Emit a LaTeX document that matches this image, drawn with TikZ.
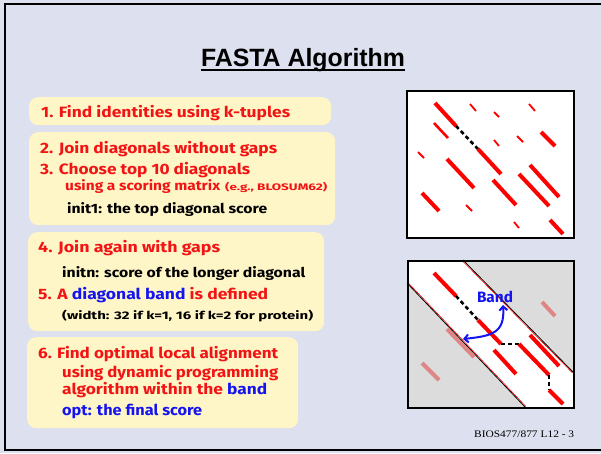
\documentclass[tikz,border=0pt]{standalone}
\usepackage{fontspec}
\setmainfont{Fira Sans}
\newfontfamily\titlefont{Liberation Sans}
\newfontfamily\footfont{Liberation Serif}
\usepackage{graphicx}
\usetikzlibrary{arrows.meta}
\definecolor{bg}{HTML}{DDE0EE}
\definecolor{boxy}{HTML}{FFF6C8}
\definecolor{tred}{HTML}{F21414}
\definecolor{tblue}{HTML}{1414F0}
\definecolor{pinkseg}{HTML}{E08585}
\definecolor{greyfill}{HTML}{DCDCDC}
\newcommand\fitw[2]{\resizebox{#1pt}{\height}{#2}}
\tikzset{
  ybox/.style={fill=boxy, rounded corners=9pt, anchor=north west, inner sep=0pt},
  big/.style={anchor=base west, inner sep=0pt, font=\bfseries\fontsize{15}{18}\selectfont, text=tred},
  mid/.style={anchor=base west, inner sep=0pt, font=\bfseries\fontsize{13.5}{16}\selectfont},
  sml/.style={anchor=base west, inner sep=0pt, font=\bfseries\fontsize{11}{13}\selectfont},
  frame/.style={draw=black, line width=1.6pt, anchor=north west, inner sep=0pt},
  segK/.style={draw=red, line width=4pt},
  segM/.style={draw=red, line width=2.6pt},
  segT/.style={draw=red, line width=1.8pt},
  segP/.style={draw=pinkseg, line width=4pt},
  gapd/.style={draw=black, line width=2.6pt, dash pattern=on 4pt off 3pt},
}
\begin{document}
\begin{tikzpicture}[x=1pt,y=-1pt]
\fill[bg] (0,0) rectangle (601,453);
\useasboundingbox (0,0) rectangle (601,453);
\draw[line width=2.5pt] (601,4) -- (5,4) -- (5,450) -- (601,450);

% title
\node[anchor=base, inner sep=0pt, font=\titlefont\bfseries\fontsize{25}{30}\selectfont] (title) at (303,66) {\fitw{204}{FASTA Algorithm}};
\draw[line width=2pt] ([yshift=-4pt]title.base west) -- ([yshift=-4pt]title.base east);

% yellow boxes
\node[ybox, minimum width=302pt, minimum height=28pt] (b1) at (29,97) {};
\node[ybox, minimum width=306pt, minimum height=93pt] (b2) at (29,132) {};
\node[ybox, minimum width=296pt, minimum height=99pt] (b3) at (28,232) {};
\node[ybox, minimum width=271pt, minimum height=91pt] (b4) at (27,337) {};

% box 1
\node[big] (t1) at (41,117) {\fitw{249}{1. Find identities using k-tuples}};
% box 2
\node[big] (t2) at (40,153) {\fitw{237}{2. Join diagonals without gaps}};
\node[big] (t3) at (40,174) {\fitw{210}{3. Choose top 10 diagonals}};
\node[mid, text=tred] (t4) at (65,190) {\fitw{155}{using a scoring matrix}};
\node[sml, text=tred, font=\bfseries\fontsize{9.5}{11}\selectfont] (t4b) at (225,190) {\fitw{102}{(e.g., BLOSUM62)}};
\node[mid, text=black] (t5) at (67,213) {\fitw{200}{init1: the top diagonal score}};
% box 3
\node[big] (t6) at (38,252) {\fitw{182}{4. Join again with gaps}};
\node[mid, text=black] (t7) at (62,277) {\fitw{243}{initn: score of the longer diagonal}};
\node[big] (t8) at (38,299) {\fitw{230}{5. A \textcolor{tblue}{diagonal band} is defined}};
\node[sml, text=black] (t9) at (62,319) {\fitw{251}{(width: 32 if k=1, 16 if k=2 for protein)}};
% box 4
\node[big] (t10) at (38,358) {\fitw{240}{6. Find optimal local alignment}};
\node[big] (t11) at (62,377) {\fitw{216}{using dynamic programming}};
\node[big] (t12) at (62,394) {\fitw{205}{algorithm within the \textcolor{tblue}{band}}};
\node[big, text=tblue] (t13) at (62,415) {\fitw{140}{opt: the final score}};

% diagram 1
\node[frame, fill=white, minimum width=167pt, minimum height=147pt] (d1) at (406,90) {};
\draw[segK] (435,103) -- (456,126);
\draw[gapd] (456,126) -- (478,149);
\draw[segK] (478,149) -- (501,174);
\draw[segT] (470,104) -- (476,111);
\draw[segT] (494,112) -- (499,117);
\draw[segT] (529,104) -- (535,111);
\draw[segM] (434,123) -- (448,138);
\draw[segK] (541,132) -- (555,146);
\draw[segT] (494,140) -- (499,146);
\draw[segT] (517,136) -- (523,142);
\draw[segT] (418,152) -- (424,158);
\draw[segK] (447,159) -- (474,188);
\draw[segK] (493,180) -- (516,205);
\draw[segK] (519,174) -- (549,206);
\draw[segK] (530,165) -- (559,197);
\draw[segK] (422,193) -- (439,211);
\draw[segT] (466,205) -- (472,211);
\draw[segT] (514,222) -- (519,228);
\draw[segK] (550,220) -- (563,234);

% diagram 2
\fill[greyfill] (407,260) rectangle (573,407);
\fill[white] (407,260) -- (463,260) -- (573,372) -- (573,407) -- (525,407) -- (407,283) -- cycle;
\draw[red, line width=0.6pt] (407.7,282.3) -- (525.7,406.3);
\draw[red, line width=0.6pt] (462.3,260.7) -- (572.3,372.7);
\draw[black, line width=0.8pt] (407,283) -- (525,407);
\draw[black, line width=0.8pt] (463,260) -- (573,372);
\draw[segP] (447,329) -- (474,357);
\draw[segP] (542,302) -- (555,316);
\draw[segP] (422,363) -- (439,380);
\draw[segK] (434,273) -- (456,296);
\draw[gapd] (456,296) -- (478,320);
\draw[segK] (478,320) -- (501,344);
\draw[gapd] (501,344) -- (519,344);
\draw[segK] (519,344) -- (549,375);
\draw[gapd] (549,375) -- (549,390);
\draw[segK] (549,390) -- (563,404);
\draw[segK] (494,350) -- (516,374);
\draw[segK] (530,335) -- (559,366);
\node[frame, minimum width=166pt, minimum height=147pt] (d2) at (407,260) {};
\node[inner sep=0pt, text=tblue, font=\bfseries\fontsize{15}{18}\selectfont] (band) at (495,297) {\fitw{36}{Band}};
\coordinate (bandL) at (463,339);
\coordinate (bandU) at (503,305);
\draw[tblue, line width=2pt, {Straight Barb[length=4pt,width=8pt]}-{Straight Barb[length=4pt,width=8pt]}] (bandL) .. controls (492,336) and (505,333) .. (bandU);

% footer
\node[anchor=base west, inner sep=0pt, font=\footfont\fontsize{10}{12}\selectfont] (foot) at (474,437) {\fitw{100}{BIOS477/877 L12 - 3}};
\end{tikzpicture}
\end{document}
